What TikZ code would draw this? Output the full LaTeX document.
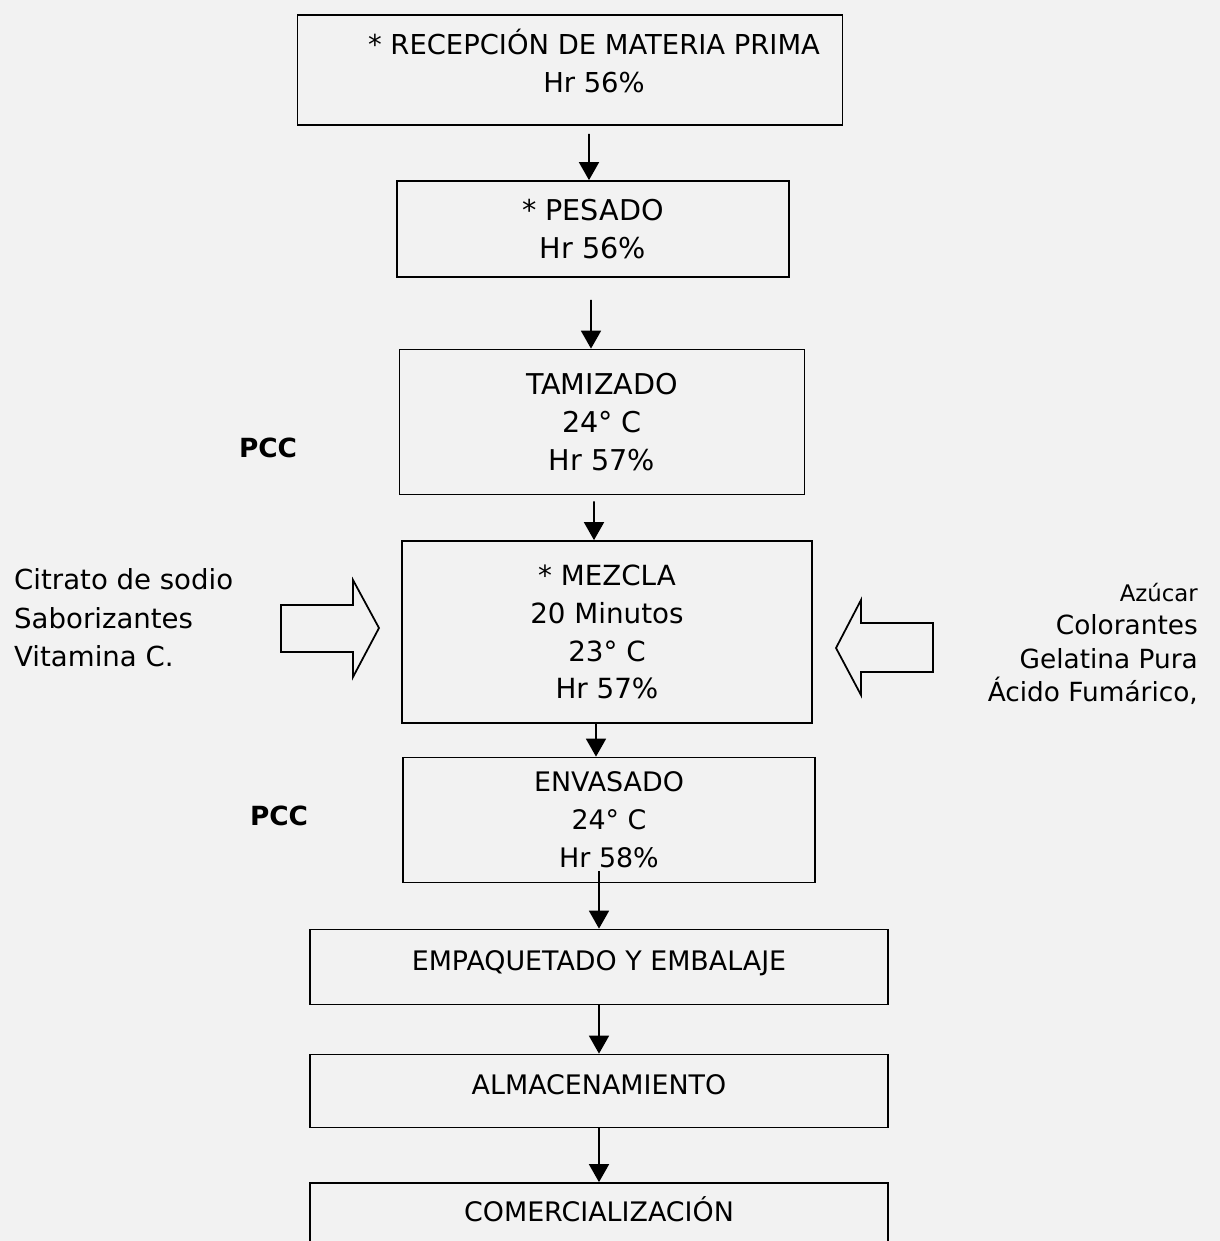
\documentclass[tikz,border=0pt]{standalone}
\usepackage{fontspec}
\setmainfont{DejaVu Sans}
\usetikzlibrary{arrows.meta, positioning}

\begin{document}
\begin{tikzpicture}[
    x=0.02cm, y=-0.02cm,
    box/.style={rectangle, draw=black, line width=1pt, align=center, inner sep=0pt, font=\fontsize{15.3}{21.5}\selectfont},
    big/.style={font=\fontsize{16.3}{21.5}\selectfont},
    flow/.style={line width=1pt, -{Triangle[length=0.36cm, width=0.4cm]}},
    inlet/.style={draw=black, line width=1pt},
    pcc/.style={font=\fontsize{15}{18}\selectfont\bfseries}
]
    \fill[black!5] (0,0) rectangle (1220,1241);
    \useasboundingbox (0,0) rectangle (1220,1241);
    \clip (0,0) rectangle (1220,1241);

    % process steps
    \node[box, minimum width=10.9cm, minimum height=2.2cm] (recepcion) at (570,70) {};
    \node[align=center, font=\fontsize{15.6}{21.5}\selectfont] (recepciontxt) at (594,61) {* RECEPCIÓN DE MATERIA PRIMA\\Hr 56\%};
    \node[box, big, minimum width=7.84cm, minimum height=1.92cm] (pesado) at (593,229) {* PESADO\\Hr 56\%};
    \node[box, big, minimum width=8.1cm, minimum height=2.9cm] (tamizado) at (602,422) {TAMIZADO\\24° C\\Hr 57\%};
    \node[box, minimum width=8.2cm, minimum height=3.64cm, font=\fontsize{15.8}{21.5}\selectfont] (mezcla) at (607,632) {* MEZCLA\\20 Minutos\\23° C\\Hr 57\%};
    \node[box, minimum width=8.24cm, minimum height=2.5cm, text depth=0.02cm] (envasado) at (609,820) {ENVASADO\\24° C\\Hr 58\%};
    \node[box, minimum width=11.56cm, minimum height=1.5cm, text depth=0.26cm] (empaquetado) at (599,967) {EMPAQUETADO Y EMBALAJE};
    \node[box, minimum width=11.56cm, minimum height=1.46cm, text depth=0.26cm] (almacenamiento) at (599,1091) {ALMACENAMIENTO};
    \node[box, minimum width=11.56cm, minimum height=1.6cm, text depth=0.56cm] (comercializacion) at (599,1223) {COMERCIALIZACIÓN};

    % control points
    \node[pcc] (pcc1) at (268,448) {PCC};
    \node[pcc] (pcc2) at (279,816) {PCC};

    % ingredients
    \node[align=left, anchor=west, font=\fontsize{15.7}{22}\selectfont] (izq) at (8,618) {Citrato de sodio\\Saborizantes\\Vitamina C.};
    \node[align=right, anchor=east, font=\fontsize{15}{19}\selectfont] (der) at (1204,644) {{\fontsize{13}{19}\selectfont Azúcar}\\Colorantes\\Gelatina Pura\\Ácido Fumárico,};

    % block arrows
    \draw[inlet] (281,605) -- (353,605) -- (353,580) -- (379,628) -- (353,677) -- (353,652) -- (281,652) -- cycle;
    \draw[inlet] (933,623) -- (861,623) -- (861,600) -- (836,648) -- (861,695) -- (861,672) -- (933,672) -- cycle;

    % flow
    \draw[flow] (pesado.north |- recepcion.south) ++(-4,8) -- ([xshift=-0.08cm]pesado.north);
    \draw[flow] (pesado.south) ++(-2,22) -- ([xshift=-0.04cm]pesado.south |- tamizado.north);
    \draw[flow] (tamizado.south -| mezcla.north) ++(-13,6) -- ([xshift=-0.26cm]mezcla.north);
    \draw[flow] (envasado.north |- mezcla.south) ++(-13,0) -- ([xshift=-0.26cm]envasado.north);
    \draw[flow] (empaquetado.north |- envasado.south) ++(0,-12) -- (empaquetado.north);
    \draw[flow] (empaquetado.south) -- (almacenamiento.north);
    \draw[flow] (almacenamiento.south) -- (comercializacion.north);
\end{tikzpicture}
\end{document}
